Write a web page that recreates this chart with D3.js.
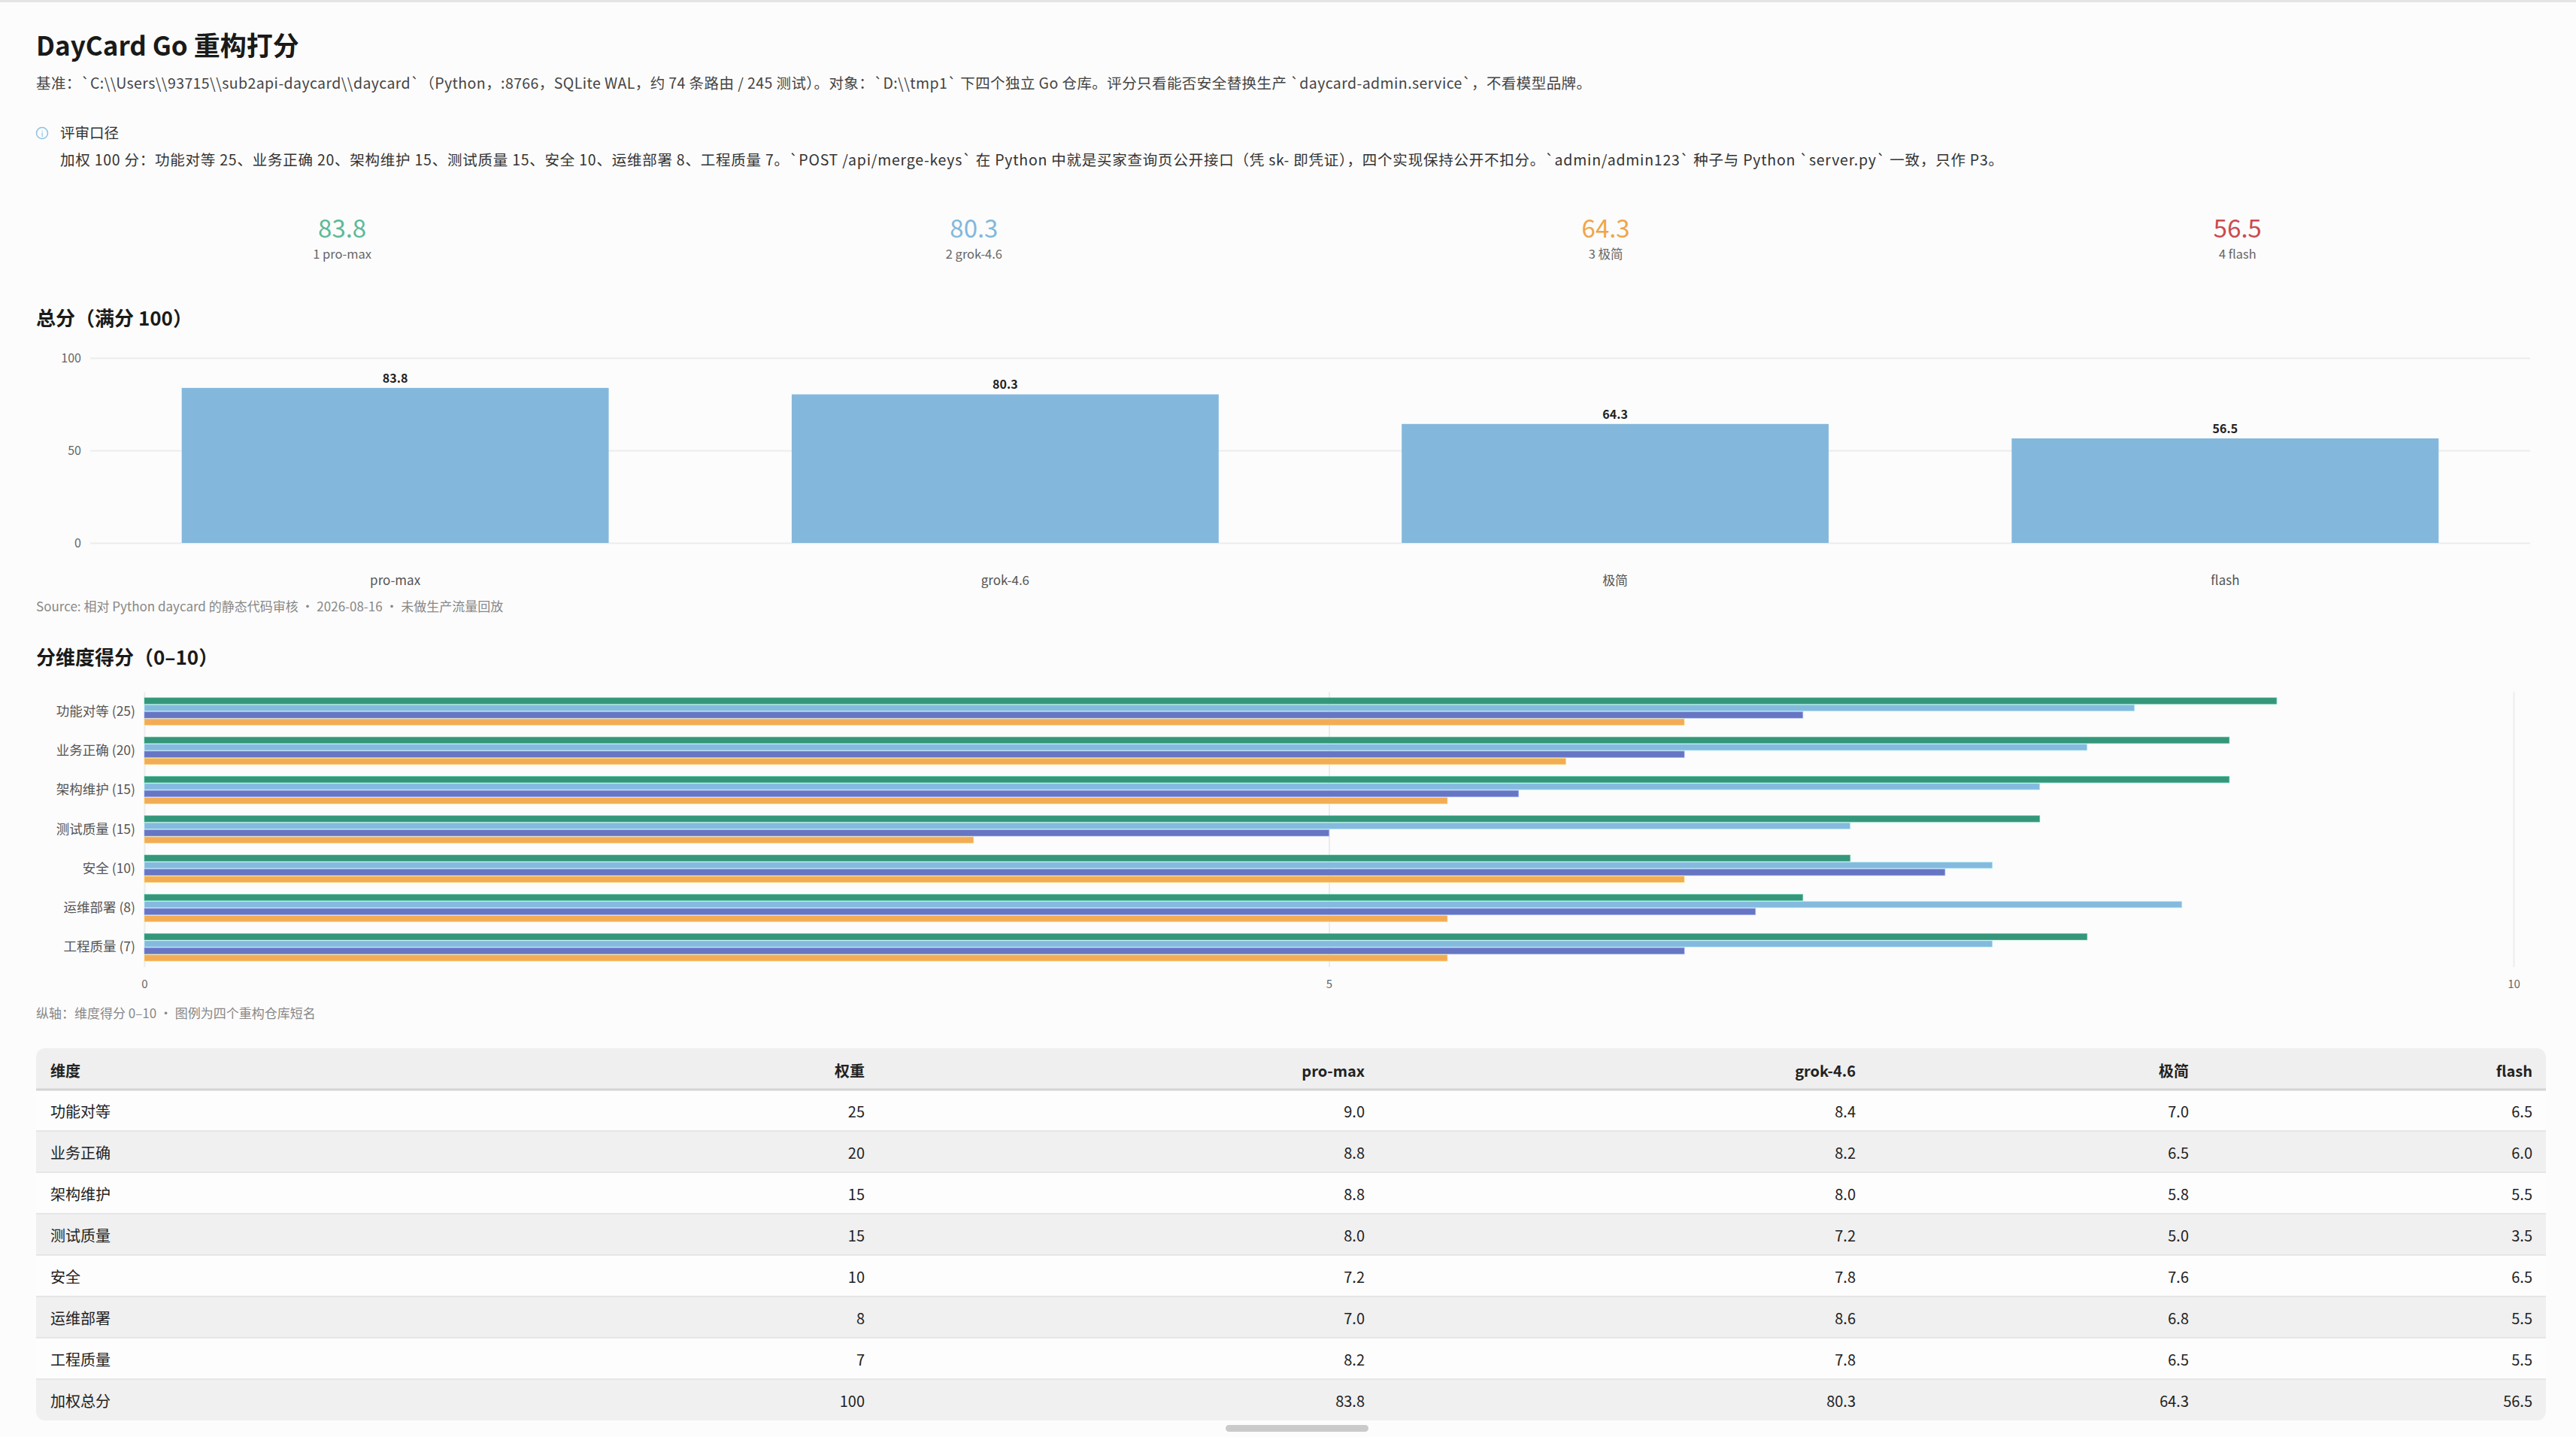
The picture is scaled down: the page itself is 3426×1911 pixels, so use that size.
<!DOCTYPE html>
<html>
<head>
<meta charset="utf-8">
<script src="https://cdn.jsdelivr.net/npm/d3@7/dist/d3.min.js"></script>
<style>
  html, body { margin:0; padding:0; background:#fcfcfc; }
  svg { display:block; }
  text { font-family: "Noto Sans CJK SC", "Noto Sans", sans-serif; }
</style>
</head>
<body>
<svg id="c" width="3426" height="1911"></svg>
<script>
// ---------- data ----------
const repos = ["pro-max", "grok-4.6", "极简", "flash"];
const totals = [83.8, 80.3, 64.3, 56.5];
const kpiColors = ["#5cba97", "#82b8dc", "#f0a54a", "#cb4a4e"];
const seriesColors = ["#35967a", "#85bade", "#6676c3", "#f3ac56"];
const dims = ["功能对等", "业务正确", "架构维护", "测试质量", "安全", "运维部署", "工程质量"];
const weights = [25, 20, 15, 15, 10, 8, 7];
const proMax = [9.0, 8.8, 8.8, 8.0, 7.2, 7.0, 8.2];
const grok = [8.4, 8.2, 8.0, 7.2, 7.8, 8.6, 7.8];
const jijian = [7.0, 6.5, 5.8, 5.0, 7.6, 6.8, 6.5];
const flash = [6.5, 6.0, 5.5, 3.5, 6.5, 5.5, 5.5];
const totalTicks = [0, 50, 100];
const dimTicks = [0, 5, 10];

const title = "DayCard Go 重构打分";
const subtitle = "基准：`C:\\\\Users\\\\93715\\\\sub2api-daycard\\\\daycard`（Python，:8766，SQLite WAL，约 74 条路由 / 245 测试）。对象：`D:\\\\tmp1` 下四个独立 Go 仓库。评分只看能否安全替换生产 `daycard-admin.service`，不看模型品牌。";
const noteTitle = "评审口径";
const noteText = "加权 100 分：功能对等 25、业务正确 20、架构维护 15、测试质量 15、安全 10、运维部署 8、工程质量 7。`POST /api/merge-keys` 在 Python 中就是买家查询页公开接口（凭 sk- 即凭证），四个实现保持公开不扣分。`admin/admin123` 种子与 Python `server.py` 一致，只作 P3。";
const h1 = "总分（满分 100）";
const source1 = "Source: 相对 Python daycard 的静态代码审核 · 2026-08-16 · 未做生产流量回放";
const h2 = "分维度得分（0–10）";
const caption2 = "纵轴：维度得分 0–10 · 图例为四个重构仓库短名";
const tableHeader = ["维度", "权重", "pro-max", "grok-4.6", "极简", "flash"];
const totalRowLabel = "加权总分";

const series = [proMax, grok, jijian, flash];

const svg = d3.select("#c");

// top border
svg.append("rect").attr("x",0).attr("y",0).attr("width",3426).attr("height",3).attr("fill","#e4e4e4");

// ---------- header texts ----------
svg.append("text").attr("x",48).attr("y",74).attr("font-size",35).attr("font-weight",700).attr("fill","#1a1a1a").text(title);
svg.append("text").attr("x",48).attr("y",118).attr("font-size",19.5).attr("fill","#444")
  .attr("textLength",2068).attr("lengthAdjust","spacing").text(subtitle);

// info note
svg.append("circle").attr("cx",56).attr("cy",177).attr("r",7.5).attr("fill","none").attr("stroke","#8cc0e2").attr("stroke-width",1.5);
svg.append("text").attr("x",56).attr("y",181.5).attr("text-anchor","middle").attr("font-size",11).attr("fill","#8cc0e2").text("i");
svg.append("text").attr("x",80).attr("y",184).attr("font-size",19.5).attr("fill","#333").text(noteTitle);
svg.append("text").attr("x",80).attr("y",220).attr("font-size",19.5).attr("fill","#333")
  .attr("textLength",2584).attr("lengthAdjust","spacing").text(noteText);

// ---------- KPIs ----------
const kpiX = d3.scaleBand().domain(repos).range([35, 3396]);
const kpi = svg.append("g").selectAll("g").data(repos).join("g")
  .attr("transform", d => `translate(${kpiX(d) + kpiX.bandwidth()/2},0)`);
kpi.append("text").attr("y",316).attr("text-anchor","middle").attr("font-size",33)
  .attr("fill",(d,i)=>kpiColors[i]).text((d,i)=>totals[i].toFixed(1));
kpi.append("text").attr("y",344).attr("text-anchor","middle").attr("font-size",16.5)
  .attr("fill","#666").text((d,i)=>`${i+1} ${d}`);

// ---------- total bar chart ----------
svg.append("text").attr("x",48).attr("y",433).attr("font-size",26).attr("font-weight",700).attr("fill","#1a1a1a").text(h1);

const x1 = d3.scaleBand().domain(repos).range([120, 3365]).paddingInner(0.3).paddingOuter(0.15);
const y1 = d3.scaleLinear().domain([0,100]).range([722, 476]);

const gy = svg.append("g").attr("transform","translate(120,0)")
  .call(d3.axisLeft(y1).tickValues(totalTicks).tickSize(-3245).tickPadding(12));
gy.select(".domain").remove();
gy.selectAll(".tick line").attr("stroke","#ececec").attr("stroke-width",2);
gy.selectAll(".tick text").attr("font-size",16).attr("fill","#666").attr("font-family","Noto Sans CJK SC, Noto Sans, sans-serif");

svg.append("g").selectAll("rect").data(repos).join("rect")
  .attr("x", d => x1(d)).attr("width", x1.bandwidth())
  .attr("y", (d,i) => y1(totals[i])).attr("height", (d,i) => y1(0) - y1(totals[i]))
  .attr("fill", "#83b8dc");
svg.append("g").selectAll("text").data(repos).join("text")
  .attr("x", d => x1(d) + x1.bandwidth()/2).attr("y", (d,i) => y1(totals[i]) - 7)
  .attr("text-anchor","middle").attr("font-size",16).attr("font-weight",700).attr("fill","#222")
  .text((d,i)=>totals[i].toFixed(1));

const gx1 = svg.append("g").attr("transform","translate(0,722)")
  .call(d3.axisBottom(x1).tickSize(0).tickPadding(44));
gx1.select(".domain").remove();
gx1.selectAll(".tick text").attr("font-size",17).attr("fill","#555").attr("font-family","Noto Sans CJK SC, Noto Sans, sans-serif");

svg.append("text").attr("x",48).attr("y",813).attr("font-size",17).attr("fill","#888").text(source1);

// ---------- dimension chart ----------
svg.append("text").attr("x",48).attr("y",884).attr("font-size",26).attr("font-weight",700).attr("fill","#1a1a1a").text(h2);

const x2 = d3.scaleLinear().domain([0,10]).range([192, 3343]);
const y2 = d3.scaleBand().domain(dims).range([920, 1286]).paddingInner(0.3).paddingOuter(0.15);
const yIn = d3.scaleBand().domain(repos).range([0, y2.bandwidth()]).paddingInner(0.1);

const gx2 = svg.append("g").attr("transform","translate(0,1286)")
  .call(d3.axisBottom(x2).tickValues(dimTicks).tickSize(-366).tickPadding(17));
gx2.select(".domain").remove();
gx2.selectAll(".tick line").attr("stroke","#ececec").attr("stroke-width",2);
gx2.selectAll(".tick text").attr("font-size",15).attr("fill","#666").attr("font-family","Noto Sans CJK SC, Noto Sans, sans-serif");

const groups = svg.append("g").selectAll("g").data(dims).join("g")
  .attr("transform", d => `translate(0,${y2(d)})`);
groups.selectAll("rect").data((d,di) => repos.map((r,ri) => ({r, ri, v: series[ri][di]}))).join("rect")
  .attr("x", x2(0)).attr("y", d => yIn(d.r))
  .attr("width", d => x2(d.v) - x2(0)).attr("height", yIn.bandwidth())
  .attr("fill", d => seriesColors[d.ri])
  .attr("stroke", d => d3.color(seriesColors[d.ri]).brighter(0.9)).attr("stroke-opacity",0.5).attr("stroke-width",1);

const gy2 = svg.append("g").attr("transform","translate(180,0)")
  .call(d3.axisLeft(y2).tickSize(0).tickPadding(0).tickFormat((d,i)=>`${d} (${weights[i]})`));
gy2.select(".domain").remove();
gy2.selectAll(".tick text").attr("font-size",17.5).attr("fill","#555").attr("font-family","Noto Sans CJK SC, Noto Sans, sans-serif");

svg.append("text").attr("x",48).attr("y",1354).attr("font-size",17).attr("fill","#888").text(caption2);

// ---------- table ----------
const tX0 = 48, tX1 = 3386, tY0 = 1394, rowH = 55;
const colRight = [null, 1150, 1815, 2468, 2911, 3368];
const rows = dims.map((d,i) => [d, String(weights[i]), proMax[i].toFixed(1), grok[i].toFixed(1), jijian[i].toFixed(1), flash[i].toFixed(1)]);
rows.push([totalRowLabel, String(d3.sum(weights)), ...totals.map(v=>v.toFixed(1))]);
const nRows = rows.length + 1;

const clipId = "tclip";
svg.append("clipPath").attr("id",clipId).append("rect")
  .attr("x",tX0).attr("y",tY0).attr("width",tX1-tX0).attr("height",nRows*rowH).attr("rx",12);
const tg = svg.append("g").attr("clip-path",`url(#${clipId})`);
tg.append("rect").attr("x",tX0).attr("y",tY0).attr("width",tX1-tX0).attr("height",rowH).attr("fill","#efefef");
tg.selectAll("rect.row").data(rows).join("rect").attr("class","row")
  .attr("x",tX0).attr("y",(d,i)=>tY0+rowH*(i+1)).attr("width",tX1-tX0).attr("height",rowH)
  .attr("fill",(d,i)=> i%2===0 ? "#fdfdfd" : "#f0f0f0");
tg.selectAll("line.row").data(rows.slice(0,-1)).join("line").attr("class","row")
  .attr("x1",tX0).attr("x2",tX1).attr("y1",(d,i)=>tY0+rowH*(i+2)).attr("y2",(d,i)=>tY0+rowH*(i+2))
  .attr("stroke","#e0e0e0").attr("stroke-width",1.5);
tg.append("line").attr("x1",tX0).attr("x2",tX1).attr("y1",tY0+rowH).attr("y2",tY0+rowH).attr("stroke","#d4d4d4").attr("stroke-width",3);

const hdr = svg.append("g");
hdr.selectAll("text").data(tableHeader).join("text")
  .attr("x",(d,i)=> i===0 ? 67 : colRight[i]).attr("y", tY0 + rowH/2 + 10)
  .attr("text-anchor",(d,i)=> i===0 ? "start" : "end")
  .attr("font-size",20).attr("font-weight",700).attr("fill","#222").text(d=>d);

const body = svg.append("g").selectAll("g").data(rows).join("g")
  .attr("transform",(d,i)=>`translate(0,${tY0 + rowH*(i+1) + rowH/2 + 9})`);
body.selectAll("text").data(d=>d).join("text")
  .attr("x",(d,i)=> i===0 ? 67 : colRight[i])
  .attr("text-anchor",(d,i)=> i===0 ? "start" : "end")
  .attr("font-size",20).attr("fill","#222").text(d=>d);

// scrollbar thumb
svg.append("rect").attr("x",1630).attr("y",1895).attr("width",190).attr("height",9).attr("rx",4.5).attr("fill","#cacaca");
</script>
</body>
</html>
